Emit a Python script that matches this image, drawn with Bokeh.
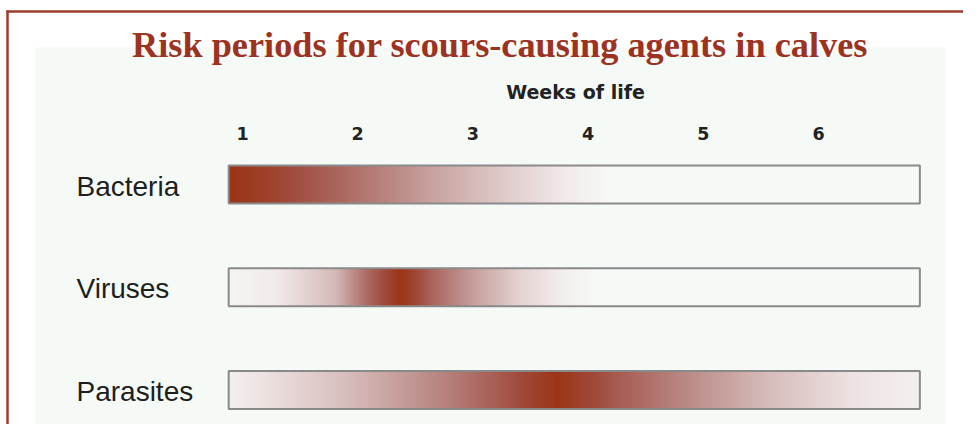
import numpy as np
from bokeh.plotting import figure
from bokeh.models import Range1d, BoxAnnotation
from bokeh.core.properties import value
from bokeh.embed import file_html
from bokeh.resources import INLINE

# ---------------- data ----------------
title = "Risk periods for scours-causing agents in calves"
axis_title = "Weeks of life"
weeks = [1, 2, 3, 4, 5, 6]
week_labels = ["1", "2", "3", "4", "5", "6"]
agents = ["Bacteria", "Viruses", "Parasites"]
bar_start = 0.88   # week at which each bar begins
bar_end = 6.88     # week at which each bar ends

# relative risk (0..1), at given weeks
bacteria_weeks = [0.88, 1.2, 1.5, 2.0, 2.4, 2.9, 3.4, 3.8, 4.2, 6.88]
bacteria_risk = [1.0, 0.92, 0.82, 0.66, 0.52, 0.35, 0.2, 0.08, 0.0, 0.0]
viruses_weeks = [0.88, 1.3, 1.8, 2.1, 2.37, 2.65, 3.0, 3.4, 3.8, 4.1, 6.88]
viruses_risk = [0.03, 0.08, 0.32, 0.72, 1.0, 0.72, 0.45, 0.2, 0.05, 0.0, 0.0]
parasites_weeks = [0.88, 1.9, 2.8, 3.3, 3.73, 4.3, 5.0, 5.6, 6.3, 6.88]
parasites_risk = [0.05, 0.3, 0.6, 0.8, 1.0, 0.75, 0.5, 0.3, 0.12, 0.05]

# ---------------- layout / style ----------------
W, H = 963, 424
PX_PER_WEEK = 115.2
WEEK1_X = 242.0      # x of week 1
ROW0_Y = 184.0       # y of first row centre
PX_PER_ROW = 102.75


def wx(px):
    return 1 + (px - WEEK1_X) / PX_PER_WEEK


def vy(py):
    return (ROW0_Y - py) / PX_PER_ROW


RUST = "#9c3322"
FRAME_RED = "#a03a2a"
ramp_pos = [0.0, 0.1, 0.3, 0.5, 0.7, 0.85, 1.0]
ramp_rgb = np.array([(246, 250, 247), (240, 230, 230), (215, 190, 188),
                     (192, 148, 145), (172, 105, 98), (160, 75, 60),
                     (155, 52, 22)], dtype=float)

p = figure(width=W, height=H, output_backend="svg", toolbar_location=None,
           x_range=Range1d(wx(0), wx(W)), y_range=Range1d(vy(H), vy(0)),
           x_axis_type=None, y_axis_type=None, title=None,
           min_border=0, min_border_left=0, min_border_right=0,
           min_border_top=0, min_border_bottom=0,
           background_fill_color="white", border_fill_color="white",
           outline_line_color=None)
p.grid.visible = False

# light panel
p.add_layout(BoxAnnotation(left=wx(35), right=wx(945), top=vy(47), bottom=vy(H),
                           fill_color="#f5faf6", fill_alpha=1.0, line_color=None,
                           level="underlay"))
# frame lines (top and left)
p.segment(x0=[wx(6), wx(7)], y0=[vy(11), vy(10)], x1=[wx(W + 5), wx(7)], y1=[vy(11), vy(H + 5)],
          line_color=FRAME_RED, line_width=2.5)

# title
p.text(x=[wx(499.5)], y=[vy(44)], text=[title], text_font=value("Liberation Serif"),
       text_font_style="bold", text_font_size="36.3px", text_color=RUST,
       text_align="center", text_baseline="alphabetic")

# axis header and week labels
p.text(x=[wx(575)], y=[vy(91.3)], text=[axis_title], text_font=value("DejaVu Sans"),
       text_font_style="bold", text_font_size="19px", text_color="#222222",
       text_align="center", text_baseline="alphabetic")
p.text(x=weeks, y=[vy(132.6)] * len(weeks), text=week_labels, text_font=value("DejaVu Sans"),
       text_font_style="bold", text_font_size="17.5px", text_color="#222222",
       text_align="center", text_baseline="alphabetic")

# bars
rows = [-float(i) for i in range(len(agents))]
bar_h = 38 / PX_PER_ROW
profiles = [(bacteria_weeks, bacteria_risk), (viruses_weeks, viruses_risk),
            (parasites_weeks, parasites_risk)]
N = 700
xs = np.linspace(bar_start, bar_end, N)
for row, (pw, pr) in zip(rows, profiles):
    inten = np.interp(xs, pw, pr)
    img = np.empty((1, N), dtype=np.uint32)
    view = img.view(dtype=np.uint8).reshape((1, N, 4))
    for c in range(3):
        view[0, :, c] = np.round(np.interp(inten, ramp_pos, ramp_rgb[:, c])).astype(np.uint8)
    view[0, :, 3] = 255
    p.image_rgba(image=[img], x=bar_start, y=row - bar_h / 2, dw=bar_end - bar_start, dh=bar_h)

p.quad(left=[bar_start] * len(rows), right=[bar_end] * len(rows),
       bottom=[r - bar_h / 2 for r in rows], top=[r + bar_h / 2 for r in rows],
       fill_color=None, line_color="#8a8a8a", line_width=2)

# row labels
p.text(x=[wx(76)] * len(agents), y=[r - 0.015 for r in rows], text=agents,
       text_font=value("Liberation Sans"), text_font_size="28px", text_color="#1e1e1e",
       text_align="left", text_baseline="alphabetic")

open("out.html", "w").write(file_html(p, INLINE))
